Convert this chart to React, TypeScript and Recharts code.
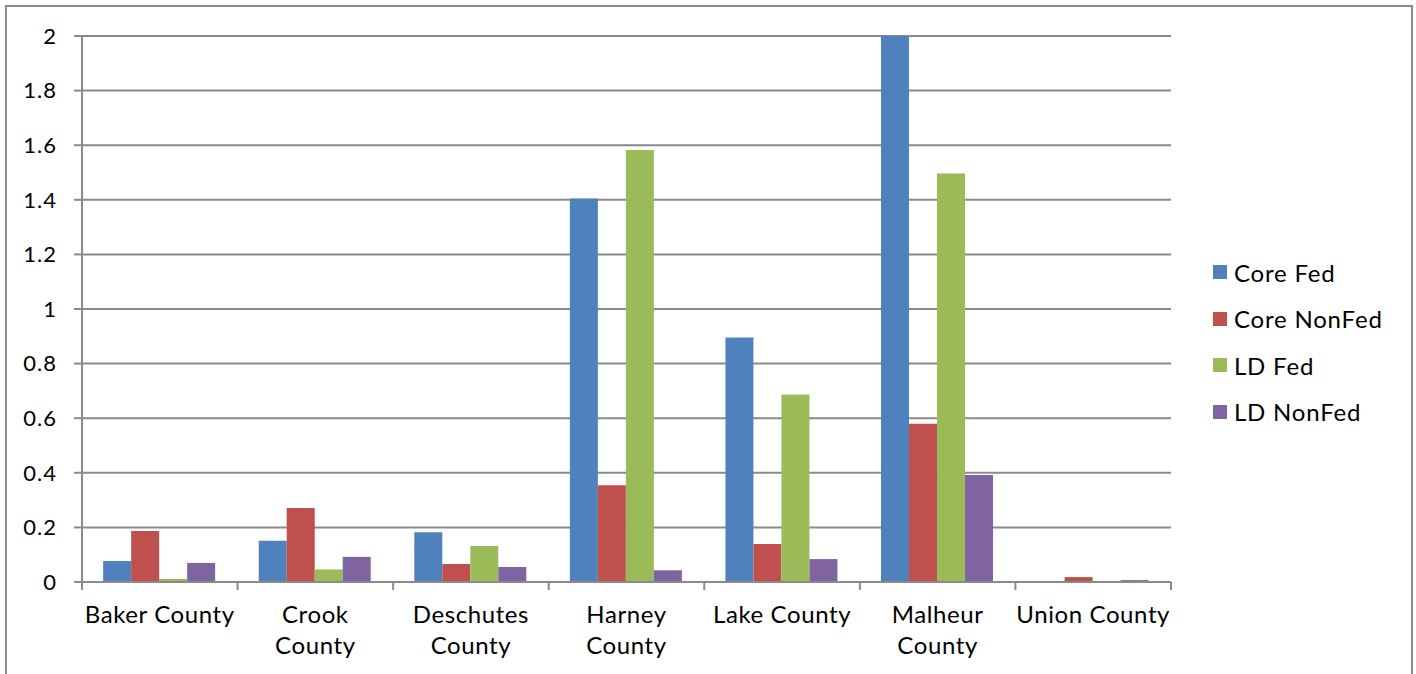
import { Bar, BarChart, CartesianGrid, Legend, XAxis, YAxis } from 'recharts';

const counties = [
  'Baker County',
  'Crook County',
  'Deschutes County',
  'Harney County',
  'Lake County',
  'Malheur County',
  'Union County',
];
// how each county name breaks onto lines under the axis
const countyLabels = [
  ['Baker County'],
  ['Crook', 'County'],
  ['Deschutes', 'County'],
  ['Harney', 'County'],
  ['Lake County'],
  ['Malheur', 'County'],
  ['Union County'],
];
const coreFed = [0.077, 0.151, 0.182, 1.405, 0.896, 2.0, 0];
const coreNonFed = [0.187, 0.271, 0.066, 0.354, 0.139, 0.58, 0.018];
const ldFed = [0.011, 0.046, 0.132, 1.582, 0.687, 1.496, 0];
const ldNonFed = [0.07, 0.092, 0.055, 0.043, 0.084, 0.392, 0.007];
const yTicks = [0, 0.2, 0.4, 0.6, 0.8, 1, 1.2, 1.4, 1.6, 1.8, 2];

const series = [
  { key: 'coreFed', name: 'Core Fed', color: '#4F81BD' },
  { key: 'coreNonFed', name: 'Core NonFed', color: '#C0504D' },
  { key: 'ldFed', name: 'LD Fed', color: '#9BBB59' },
  { key: 'ldNonFed', name: 'LD NonFed', color: '#8064A2' },
];

const rows = counties.map((county, i) => ({
  county,
  coreFed: coreFed[i],
  coreNonFed: coreNonFed[i],
  ldFed: ldFed[i],
  ldNonFed: ldNonFed[i],
}));

const FONT = 'Lato, "Open Sans", sans-serif';
const GRID = '#8a8a8a';

// category label plus the small tick marks that sit between categories
const CountyTick = (props: any) => {
  const { x, y, payload, index } = props;
  const half = payload.offset || 0;
  const lines = countyLabels[counties.indexOf(payload.value)] || [payload.value];
  const last = index === counties.length - 1;
  return (
    <g>
      <line x1={x - half} x2={x - half} y1={y} y2={y + 8} stroke={GRID} strokeWidth={2} />
      {last && (
        <line x1={x + half} x2={x + half} y1={y} y2={y + 8} stroke={GRID} strokeWidth={2} />
      )}
      <text
        x={x}
        y={y}
        textAnchor="middle"
        fontSize={24}
        letterSpacing={0.6}
        fontFamily={FONT}
        fill="#000"
      >
        {lines.map((line, i) => (
          <tspan key={i} x={x} dy={i === 0 ? 41 : 31}>
            {line}
          </tspan>
        ))}
      </text>
    </g>
  );
};

const SideLegend = (props: any) => {
  const { payload } = props;
  return (
    <div style={{ fontFamily: FONT, fontSize: 24, letterSpacing: 0.8, color: '#000' }}>
      {(payload || []).map((item: any) => (
        <div
          key={item.value}
          style={{ display: 'flex', alignItems: 'center', height: 46.5 }}
        >
          <span
            style={{
              width: 14,
              height: 14,
              background: item.color,
              marginRight: 7,
              display: 'inline-block',
            }}
          />
          <span>{item.value}</span>
        </div>
      ))}
    </div>
  );
};

export default function App() {
  return (
    <div
      style={{
        position: 'absolute',
        left: 0,
        top: 0,
        width: 1416,
        height: 674,
        overflow: 'hidden',
        background: '#fff',
      }}
    >
      <div
        style={{
          position: 'absolute',
          left: 5,
          top: 5,
          width: 1408,
          height: 720,
          border: '2px solid #8c8c8c',
          boxSizing: 'border-box',
        }}
      />
      <div style={{ position: 'absolute', left: 0, top: 0 }}>
        <BarChart
          width={1416}
          height={674}
          data={rows}
          margin={{ top: 36, right: 245, bottom: 32, left: 22 }}
          barCategoryGap="13.6%"
          barGap={0}
        >
          <CartesianGrid vertical={false} stroke={GRID} strokeWidth={2} />
          <XAxis
            dataKey="county"
            height={60}
            interval={0}
            tickSize={0}
            tickMargin={0}
            tickLine={false}
            axisLine={{ stroke: GRID, strokeWidth: 2 }}
            tick={<CountyTick />}
          />
          <YAxis
            width={60}
            domain={[0, 2]}
            ticks={yTicks}
            tickSize={8}
            tickMargin={17}
            axisLine={{ stroke: GRID, strokeWidth: 2 }}
            tickLine={{ stroke: GRID, strokeWidth: 2 }}
            tick={{ fill: '#000', fontSize: 22, letterSpacing: 1, fontFamily: FONT }}
          />
          <Legend
            layout="horizontal"
            verticalAlign="middle"
            content={<SideLegend />}
            wrapperStyle={{ position: 'absolute', left: 1213, top: 249, width: 'auto' }}
          />
          {series.map((s) => (
            <Bar
              key={s.key}
              dataKey={s.key}
              name={s.name}
              fill={s.color}
              isAnimationActive={false}
            />
          ))}
        </BarChart>
      </div>
    </div>
  );
}
